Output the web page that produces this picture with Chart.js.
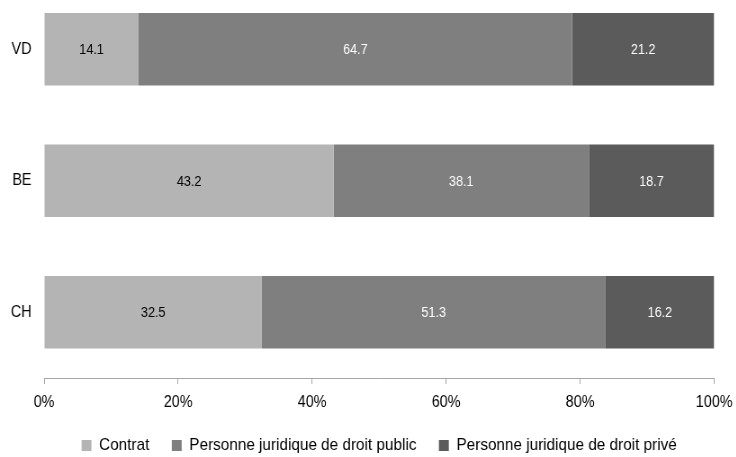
<!DOCTYPE html>
<html>
<head>
<meta charset="utf-8">
<script src="https://cdn.jsdelivr.net/npm/chart.js@4"></script>
<style>
  html, body { margin: 0; padding: 0; background: #fff; overflow: hidden; width: 736px; height: 457px; }
  /* the original is slightly squeezed sideways, so draw wider and scale down */
  #wrap { position: absolute; left: 0; top: -40px; transform: scaleX(0.9); transform-origin: 0 0; }
  #chart { display: block; }
</style>
</head>
<body>
<div id="wrap"><canvas id="chart" width="823" height="504"></canvas></div>
<script>
const categories = ["VD", "BE", "CH"];
const contrat = [14.1, 43.2, 32.5];
const droitPublic = [64.7, 38.1, 51.3];
const droitPrive = [21.2, 18.7, 16.2];
const seriesNames = ["Contrat", "Personne juridique de droit public", "Personne juridique de droit privé"];
const tickValues = [0, 20, 40, 60, 80, 100];

const FONT = "'Liberation Sans', Arial, sans-serif";

// value in the middle of each segment
const barLabels = {
  id: "barLabels",
  afterDatasetsDraw(chart) {
    const ctx = chart.ctx;
    ctx.save();
    ctx.font = "14px " + FONT;
    ctx.textAlign = "center";
    ctx.textBaseline = "middle";
    chart.data.datasets.forEach((ds, i) => {
      chart.getDatasetMeta(i).data.forEach((bar, j) => {
        const p = bar.getProps(["x", "y", "base"], true);
        ctx.fillStyle = i === 0 ? "#000" : "#fff";
        ctx.fillText(ds.data[j].toFixed(1), (p.x + p.base) / 2, p.y + 1);
      });
    });
    ctx.restore();
  }
};

new Chart(document.getElementById("chart"), {
  type: "bar",
  data: {
    labels: categories,
    datasets: [
      { label: seriesNames[0], data: contrat, backgroundColor: "#b4b4b4" },
      { label: seriesNames[1], data: droitPublic, backgroundColor: "#7f7f7f" },
      { label: seriesNames[2], data: droitPrive, backgroundColor: "#5b5b5b" },
    ],
  },
  options: {
    indexAxis: "y",
    responsive: false,
    animation: false,
    devicePixelRatio: 1,
    datasets: { bar: { categoryPercentage: 1, barPercentage: 0.552 } },
    layout: { autoPadding: false, padding: { left: 12, right: 20, top: 0, bottom: 0 } },
    scales: {
      x: {
        stacked: true,
        min: 0,
        max: 100,
        afterBuildTicks: (axis) => { axis.ticks = tickValues.map(v => ({ value: v })); },
        afterFit: (axis) => { axis.height = 34; },
        border: { display: true, color: "#a6a6a6" },
        grid: { drawOnChartArea: false, drawTicks: true, tickLength: 6, color: "#a6a6a6" },
        ticks: {
          color: "#000",
          padding: 9,
          maxRotation: 0,
          font: { size: 16, family: FONT },
          callback: (v) => v + "%",
        },
      },
      y: {
        stacked: true,
        afterFit: (axis) => { axis.width = 37; },
        border: { display: false },
        grid: { display: false, drawTicks: false },
        ticks: { color: "#000", padding: 14, font: { size: 16, family: FONT } },
      },
    },
    plugins: {
      legend: {
        position: "bottom",
        fullSize: false,
        labels: {
          color: "#000",
          boxWidth: 11,
          boxHeight: 11,
          padding: 25,
          font: { size: 17, family: FONT },
        },
      },
      tooltip: { enabled: false },
    },
  },
  plugins: [barLabels],
});
</script>
</body>
</html>
